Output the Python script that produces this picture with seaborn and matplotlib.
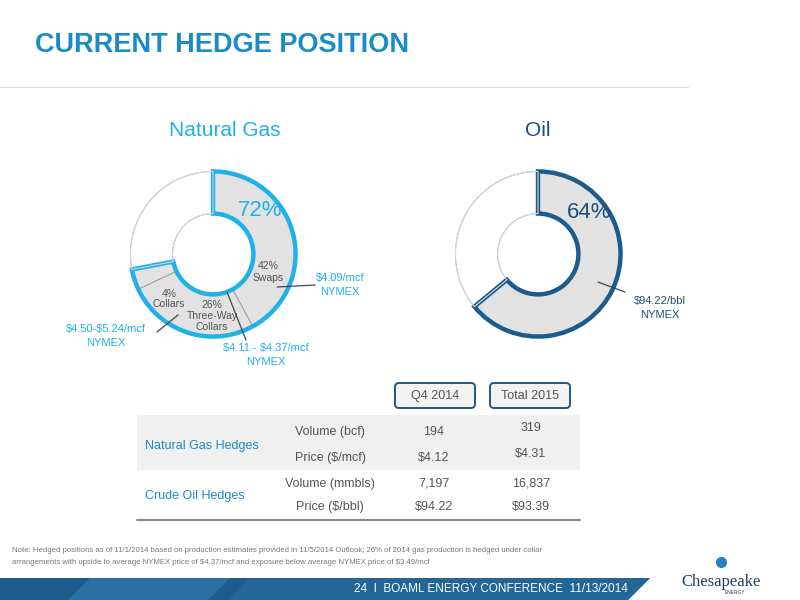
import matplotlib
matplotlib.use("Agg")
import matplotlib.pyplot as plt
import seaborn as sns
from matplotlib.patches import Rectangle, Polygon, FancyBboxPatch

sns.set_theme(style="white")
plt.rcParams["font.family"] = ["Liberation Sans", "DejaVu Sans"]

# data
gas_parts = [42, 26, 4]          # swaps, three-way collars, collars
gas_hedged = 72
oil_hedged = 64
table_cols = ["Q4 2014", "Total 2015"]
row_groups = ["Natural Gas Hedges", "Crude Oil Hedges"]
row_labels = ["Volume (bcf)", "Price ($/mcf)", "Volume (mmbls)", "Price ($/bbl)"]
q4_2014 = ["194", "$4.12", "7,197", "$94.22"]
total_2015 = ["319", "$4.31", "16,837", "$93.39"]

LIGHT = "#1fb1ea"
DARK = "#1b5b8e"
TITLE = "#1a8bc9"
GREY = "#e2e2e2"

fig = plt.figure(figsize=(8, 6), dpi=100)
bg = fig.add_axes([0, 0, 1, 1])
bg.set_xlim(0, 800)
bg.set_ylim(600, 0)
bg.axis("off")


def donut_axes(cx, cy, r=86):
    ax = fig.add_axes([(cx - r) / 800, 1 - (cy + r) / 600, 2 * r / 800, 2 * r / 600])
    return ax


def donut(ax, parts, total, color):
    rest = 100 - total
    ax.pie(parts + [rest], radius=0.96, startangle=90, counterclock=False,
           colors=[GREY] * len(parts) + ["white"],
           wedgeprops=dict(width=0.49, edgecolor="#9a9a9a", linewidth=0.6))
    w, _ = ax.pie([total, rest], radius=0.96, startangle=90, counterclock=False,
                  colors=["none", "none"],
                  wedgeprops=dict(width=0.49, linewidth=0.8))
    w[0].set_edgecolor(color)
    w[0].set_linewidth(3.2)
    w[1].set_edgecolor("#d5d5d5")
    w[1].set_linewidth(0.8)
    ax.set_xlim(-1, 1)
    ax.set_ylim(-1, 1)
    ax.axis("off")


donut(donut_axes(213, 254), gas_parts, gas_hedged, LIGHT)
donut(donut_axes(538, 254), [oil_hedged], oil_hedged, DARK)

# overlay for text on top of donuts
top = fig.add_axes([0, 0, 1, 1])
top.set_xlim(0, 800)
top.set_ylim(600, 0)
top.axis("off")
top.patch.set_alpha(0)


def txt(ax, x, y, s, **kw):
    kw.setdefault("va", "center")
    ax.text(x, y, s, parse_math=False, **kw)


# title
txt(bg, 35, 45, "CURRENT HEDGE POSITION", color=TITLE, fontsize=19.5, fontweight="bold")
bg.plot([0, 688], [87, 87], color="#d8d8d8", lw=0.8)

txt(bg, 225, 131, "Natural Gas", color=LIGHT, fontsize=15, ha="center")
txt(bg, 538, 131, "Oil", color="#1d4f7a", fontsize=15, ha="center")

# gas labels
txt(top, 260, 210, f"{gas_hedged}%", color=LIGHT, fontsize=16, ha="center")
txt(top, 268, 272, f"{gas_parts[0]}%\nSwaps", color="#555555", fontsize=7.5,
    ha="center", linespacing=1.3)
txt(top, 212, 316, f"{gas_parts[1]}%\nThree-Way\nCollars", color="#555555",
    fontsize=7.5, ha="center", linespacing=1.1)
txt(top, 169, 299, f"{gas_parts[2]}%\nCollars", color="#555555", fontsize=7.5,
    ha="center", linespacing=1.1)
top.plot([277, 315], [287, 285], color="#444444", lw=0.9)
top.plot([227, 246], [292, 340], color="#444444", lw=0.9)
top.plot([178, 157], [315, 332], color="#444444", lw=0.9)
txt(top, 340, 285, "$4.09/mcf\nNYMEX", color=LIGHT, fontsize=8, ha="center", linespacing=1.4)
txt(top, 106, 336, "$4.50-$5.24/mcf\nNYMEX", color=LIGHT, fontsize=8, ha="center",
    linespacing=1.4)
txt(top, 266, 355, "$4.11 - $4.37/mcf\nNYMEX", color=LIGHT, fontsize=8, ha="center",
    linespacing=1.4)

# oil labels
txt(top, 589, 213, f"{oil_hedged}%", color="#1d4f7a", fontsize=16, ha="center")
top.plot([598, 625], [282, 292], color="#444444", lw=0.9)
txt(top, 660, 308, "$94.22/bbl\nNYMEX", color="#1d4f7a", fontsize=8, ha="center",
    linespacing=1.4)

# table
top.add_patch(Rectangle((137, 415), 443, 55, color="#f0f0f0", lw=0, zorder=0))
for x0, lab in zip([395, 490], table_cols):
    top.add_patch(FancyBboxPatch((x0, 383), 80, 25, boxstyle="round,pad=0,rounding_size=4",
                                 fc="#f3f3f3", ec="#24577f", lw=1.4))
    txt(top, x0 + 40, 396, lab, fontsize=9, color="#555555", ha="center")
row_y = [432, 458, 484, 507]
for gi, g in enumerate(row_groups):
    txt(top, 145, (row_y[2 * gi] + row_y[2 * gi + 1]) / 2 + 1, g, color=TITLE, fontsize=9)
for y, lab, a, b in zip(row_y, row_labels, q4_2014, total_2015):
    txt(top, 330, y, lab, fontsize=9, color="#555555", ha="center")
    txt(top, 434, y, a, fontsize=9, color="#555555", ha="center")
    txt(top, 531, y - 4 if y < 470 else y, b, fontsize=9, color="#555555", ha="center")
top.plot([137, 580], [520, 520], color="#8a8a8a", lw=1.5)

# note
txt(top, 12, 551, "Note: Hedged positions as of 11/1/2014 based on production estimates provided in "
    "11/5/2014 Outlook; 26% of 2014 gas production is hedged under collar", fontsize=5.6,
    color="#777777")
txt(top, 12, 563, "arrangements with upside to average NYMEX price of $4.37/mcf and exposure "
    "below average NYMEX price of $3.49/mcf", fontsize=5.6, color="#777777")

# footer band
top.add_patch(Polygon([(0, 578), (650, 578), (628, 600), (0, 600)], color="#1d5c8c", lw=0))
top.add_patch(Polygon([(90, 578), (230, 578), (208, 600), (68, 600)], color="#2a6fa3", lw=0))
top.add_patch(Polygon([(250, 578), (650, 578), (628, 600), (228, 600)], color="#236596", lw=0))
txt(top, 628, 589, "24  I  BOAML ENERGY CONFERENCE  11/13/2014", color="white",
    fontsize=8.5, ha="right")
txt(top, 721, 582, "Chesapeake", family="Liberation Serif", fontsize=12,
    color="#1d3f6a", ha="center")
txt(top, 735, 593, "ENERGY", fontsize=3.5, color="#1d3f6a", ha="center")
top.plot([721], [562], marker="o", ms=7, color="#2a7fc0")

fig.savefig("out.png", dpi=100)
